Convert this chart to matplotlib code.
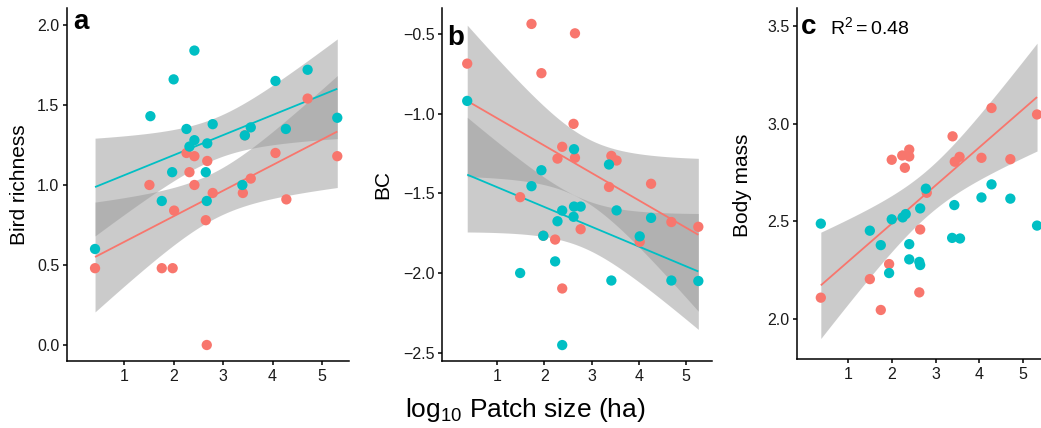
import numpy as np
import matplotlib
matplotlib.use("Agg")
import matplotlib.pyplot as plt
from math import gamma, sqrt, pi

plt.rcParams['font.family'] = ['Liberation Sans', 'DejaVu Sans']
plt.rcParams['mathtext.fontset'] = 'custom'
plt.rcParams['mathtext.rm'] = 'Liberation Sans'
plt.rcParams['mathtext.it'] = 'Liberation Sans:italic'

RED = '#F8766D'
TEAL = '#00BFC4'

# ---------------- data ----------------
# panel a: bird richness
a_red_x = [0.41, 1.51, 1.76, 1.98, 2.01, 2.26, 2.32, 2.42, 2.42, 2.65, 2.67, 2.68, 2.79, 3.40, 3.44, 3.56, 4.06, 4.28, 4.71, 5.31]
a_red_y = [0.48, 1.00, 0.48, 0.48, 0.84, 1.20, 1.08, 1.18, 1.00, 0.78, 0.00, 1.15, 0.95, 0.95, 1.31, 1.04, 1.20, 0.91, 1.54, 1.18]
a_teal_x = [0.41, 1.53, 1.76, 1.97, 2.00, 2.26, 2.32, 2.42, 2.42, 2.65, 2.67, 2.68, 2.79, 3.39, 3.44, 3.56, 4.06, 4.27, 4.71, 5.31]
a_teal_y = [0.60, 1.43, 0.90, 1.08, 1.66, 1.35, 1.24, 1.84, 1.28, 1.08, 0.90, 1.26, 1.38, 1.00, 1.31, 1.36, 1.65, 1.35, 1.72, 1.42]

# panel b: BC
b_red_x = [0.37, 1.49, 1.73, 1.94, 1.98, 2.23, 2.28, 2.38, 2.38, 2.62, 2.65, 2.65, 2.77, 3.37, 3.42, 3.53, 4.02, 4.26, 4.69, 5.26]
b_red_y = [-0.686, -1.524, -0.437, -0.746, -1.766, -1.79, -1.282, -1.208, -2.097, -1.064, -0.496, -1.277, -1.725, -1.46, -1.265, -1.294, -1.804, -1.44, -1.68, -1.71]
b_teal_x = [0.37, 1.49, 1.73, 1.94, 1.98, 2.23, 2.28, 2.38, 2.38, 2.62, 2.63, 2.63, 2.77, 3.37, 3.42, 3.53, 4.02, 4.26, 4.69, 5.26]
b_teal_y = [-0.92, -2.0, -1.455, -1.355, -1.766, -1.927, -1.675, -1.608, -2.452, -1.647, -1.223, -1.583, -1.583, -1.319, -2.047, -1.607, -1.77, -1.654, -2.047, -2.05]

# panel c: body mass
c_red_x = [0.38, 1.50, 1.75, 1.94, 2.00, 2.24, 2.30, 2.40, 2.40, 2.63, 2.65, 2.80, 3.39, 3.44, 3.55, 4.05, 4.28, 4.71, 5.32]
c_red_y = [2.109, 2.204, 2.046, 2.281, 2.815, 2.837, 2.774, 2.867, 2.832, 2.136, 2.458, 2.646, 2.935, 2.805, 2.83, 2.825, 3.08, 2.818, 3.047]
c_teal_x = [0.38, 1.50, 1.75, 1.94, 2.00, 2.25, 2.32, 2.40, 2.40, 2.63, 2.65, 2.65, 2.78, 3.38, 3.43, 3.56, 4.05, 4.28, 4.71, 5.32]
c_teal_y = [2.488, 2.452, 2.378, 2.235, 2.51, 2.52, 2.537, 2.383, 2.305, 2.292, 2.276, 2.566, 2.667, 2.415, 2.583, 2.412, 2.622, 2.689, 2.616, 2.478]

x_ticks = [1, 2, 3, 4, 5]
a_yticks = [0.0, 0.5, 1.0, 1.5, 2.0]
b_yticks = [-2.5, -2.0, -1.5, -1.0, -0.5]
c_yticks = [2.0, 2.5, 3.0, 3.5]
y_titles = ['Bird richness', 'BC', 'Body mass']
panel_labels = ['a', 'b', 'c']
r2_label = '0.48'
x_title = r'$\mathregular{log_{10}}$ Patch size (ha)'


def t975(df):
    xs = np.linspace(0, 12, 60001)
    c = gamma((df + 1) / 2) / (sqrt(df * pi) * gamma(df / 2))
    pdf = c * (1 + xs ** 2 / df) ** (-(df + 1) / 2)
    cdf = 0.5 + np.concatenate([[0], np.cumsum((pdf[1:] + pdf[:-1]) / 2 * np.diff(xs))])
    return float(np.interp(0.975, cdf, xs))


def smooth(ax, x, y, color):
    x = np.asarray(x, float)
    y = np.asarray(y, float)
    n = len(x)
    xb = x.mean()
    sxx = ((x - xb) ** 2).sum()
    b1 = ((x - xb) * (y - y.mean())).sum() / sxx
    b0 = y.mean() - b1 * xb
    res = y - (b0 + b1 * x)
    s = sqrt((res ** 2).sum() / (n - 2))
    xg = np.linspace(x.min(), x.max(), 80)
    yg = b0 + b1 * xg
    se = s * np.sqrt(1 / n + (xg - xb) ** 2 / sxx)
    t = t975(n - 2)
    ax.fill_between(xg, yg - t * se, yg + t * se, color='#999999', alpha=0.5,
                    linewidth=0, zorder=1)
    ax.plot(xg, yg, color=color, lw=1.3, zorder=2, solid_capstyle='butt')


W, H = 1041, 428
fig = plt.figure(figsize=(W / 100, H / 100), dpi=100)

boxes = [
    (67.1, 361, 281.8, 353),
    (442.4, 361, 269.4, 353),
    (797.4, 359, 249.5, 351),
]
ylims = [(-0.1, 2.106), (-2.552, -0.337), (1.795, 3.592)]
yticks = [a_yticks, b_yticks, c_yticks]
title_x = [19.5, 383, 742]
label_pos = [(0.021, 0.94), (0.019, 0.895), (0.012, 0.926)]

axes = []
for i, (l, b, w, h) in enumerate(boxes):
    ax = fig.add_axes([l / W, (H - b) / H, w / W, h / H])
    axes.append(ax)
    ax.set_xlim(-0.155, 5.545)
    ax.set_ylim(*ylims[i])
    ax.set_xticks(x_ticks)
    ax.set_xticklabels([str(v) for v in x_ticks])
    ax.set_yticks(yticks[i])
    ax.set_yticklabels([f'{v:.1f}'.replace('-', '\u2212') for v in yticks[i]])
    for sp in ['top', 'right']:
        ax.spines[sp].set_visible(False)
    for sp in ['left', 'bottom']:
        ax.spines[sp].set_linewidth(1.1)
        ax.spines[sp].set_color('black')
    ax.tick_params(axis='both', length=3, width=1.1, color='black',
                   labelsize=11.5, labelcolor='#1a1a1a', pad=2.5)
    ax.patch.set_visible(False)
    fig.text(title_x[i] / W, (H - 185) / H, y_titles[i], rotation=90,
             ha='center', va='center', fontsize=15)
    ax.text(label_pos[i][0], label_pos[i][1], panel_labels[i], transform=ax.transAxes,
            fontsize=20, fontweight='bold', ha='left', va='baseline')

ax_a, ax_b, ax_c = axes

smooth(ax_a, a_red_x, a_red_y, RED)
smooth(ax_a, a_teal_x, a_teal_y, TEAL)
smooth(ax_b, b_red_x, b_red_y, RED)
smooth(ax_b, b_teal_x, b_teal_y, TEAL)
smooth(ax_c, c_red_x, c_red_y, RED)

MS = 55
for ax, rx, ry, tx, ty in [(ax_a, a_red_x, a_red_y, a_teal_x, a_teal_y),
                           (ax_b, b_red_x, b_red_y, b_teal_x, b_teal_y),
                           (ax_c, c_red_x, c_red_y, c_teal_x, c_teal_y)]:
    ax.scatter(rx, ry, s=MS, color=RED, edgecolors='none', zorder=3, clip_on=False)
    ax.scatter(tx, ty, s=MS, color=TEAL, edgecolors='none', zorder=4, clip_on=False)

ax_c.text(0.132, 0.926, r'$\mathregular{R^2=' + r2_label + '}$', transform=ax_c.transAxes,
          fontsize=14, ha='left', va='baseline')

fig.text(525.5 / W, (H - 417) / H, x_title, ha='center', va='baseline', fontsize=19)

fig.savefig('out.png', dpi=100)
